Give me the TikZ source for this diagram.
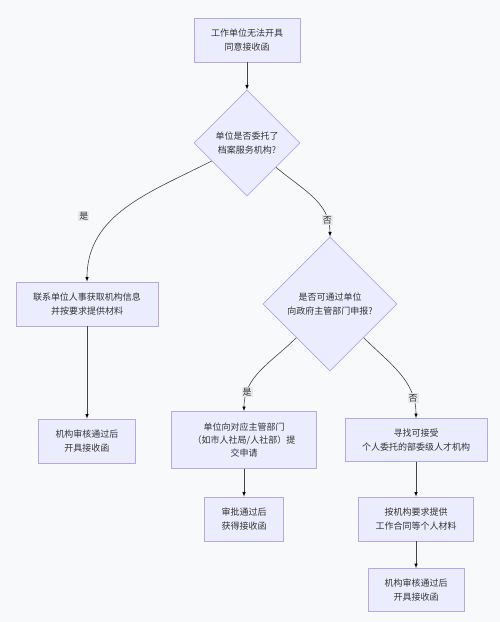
\documentclass[tikz,border=0pt]{standalone}
\usepackage{fontspec}
\setmainfont{Noto Sans CJK SC}
\usetikzlibrary{shapes.geometric,arrows}

\definecolor{boxfill}{HTML}{ECECFF}
\definecolor{boxline}{HTML}{B8A5EC}
\definecolor{bgcol}{HTML}{F8F9FB}
\definecolor{flowcol}{HTML}{444444}
\definecolor{lblfill}{HTML}{E8E8E8}

\begin{document}
\begin{tikzpicture}[x=1pt,y=-1pt,
  font=\fontsize{9}{13.3}\selectfont, text=black!80,
  proc/.style={draw=boxline, fill=boxfill, line width=0.8pt, align=center, minimum height=44pt, inner sep=2pt},
  decide/.style={diamond, draw=boxline, fill=boxfill, line width=0.8pt, align=center, aspect=1, inner sep=0pt},
  flow/.style={->, >=latex, draw=flowcol, line width=0.6pt},
  lbl/.style={fill=lblfill, inner sep=1pt, font=\fontsize{9}{10}\selectfont}]
  \fill[bgcol] (0,0) rectangle (500,622);
  \useasboundingbox (0,0) rectangle (500,622);
  \node[proc, minimum width=106pt] (start) at (247,40) {工作单位无法开具\\同意接收函};
  \node[decide, minimum size=106pt] (ask1) at (247,143) {单位是否委托了\\档案服务机构?};
  \node[proc, minimum width=142pt] (contact) at (87,304) {联系单位人事获取机构信息\\并按要求提供材料};
  \node[proc, minimum width=97pt] (issue1) at (87,441) {机构审核通过后\\开具接收函};
  \node[decide, minimum size=134pt] (ask2) at (330,304) {是否可通过单位\\向政府主管部门申报?};
  \node[proc, minimum width=145pt, minimum height=57pt] (apply) at (244,440) {单位向对应主管部门\\（如市人社局/人社部）提\\交申请};
  \node[proc, minimum width=142pt, minimum height=43pt] (seek) at (416,440) {寻找可接受\\个人委托的部委级人才机构};
  \node[proc, minimum width=79pt] (approve) at (244,519) {审批通过后\\获得接收函};
  \node[proc, minimum width=115pt] (provide) at (416,519) {按机构要求提供\\工作合同等个人材料};
  \node[proc, minimum width=96pt, minimum height=43pt] (issue2) at (416,590) {机构审核通过后\\开具接收函};

  \path[flow]
  (start) edge (ask1)
  (ask1) edge[out=207, in=90] node[lbl, pos=0.58, xshift=-32pt] {是} (contact)
  (ask1) edge[out=320, in=90] node[lbl, pos=0.82] {否} (ask2)
  (contact) edge (issue1)
  (ask2) edge[out=225, in=90] node[lbl, pos=0.8] {是} (apply)
  (ask2) edge[out=315, in=90] node[lbl, pos=0.8] {否} (seek)
  (apply) edge (approve)
  (seek) edge (provide)
  (provide) edge (issue2)
  ;
\end{tikzpicture}
\end{document}
